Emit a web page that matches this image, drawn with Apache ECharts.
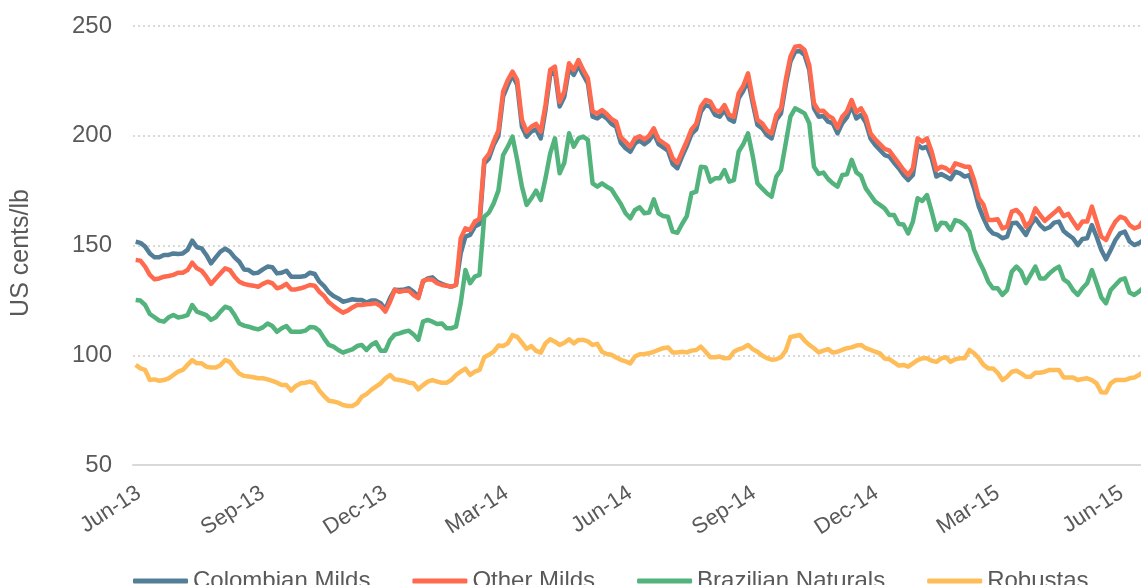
<!DOCTYPE html>
<html><head><meta charset="utf-8">
<script src="https://cdn.jsdelivr.net/npm/echarts@6/dist/echarts.min.js"></script>
<style>html,body{margin:0;padding:0;background:#fff}#c{width:1141px;height:585px}</style>
</head><body><div id="c"></div>
<script>
// Twice-weekly observations starting 2013-06-03 (every 3.5 days)
const firstObs = [2013, 5, 3];
const stepDays = 3.5;

const colombianMilds = [
151.7,151.2,149.5,146.4,144.6,144.6,145.7,145.7,146.4,146.1,146.4,148.0,152.2,149.2,148.7,145.7,141.9,144.6,147.2,148.6,147.2,144.6,142.6,139.1,138.8,137.3,137.6,139.1,140.4,140.1,137.3,137.6,138.5,135.8,135.8,135.8,
136.1,137.6,137.0,133.5,131.5,128.7,127.0,125.9,124.4,124.9,125.5,125.2,125.2,124.0,124.9,124.9,123.7,120.9,126.0,129.9,129.7,130.0,130.5,128.9,126.4,133.5,135.0,135.5,133.5,132.5,131.7,131.2,132.0,146.4,154.0,154.8,
158.6,159.8,187.4,189.7,195.8,199.9,217.8,223.1,227.7,223.1,204.1,199.6,201.9,202.9,198.8,211.7,227.7,229.2,213.3,217.8,230.7,227.7,232.0,227.7,223.9,208.7,207.9,209.5,207.9,205.4,204.1,196.8,194.3,192.7,196.5,197.8,
196.2,197.8,201.1,196.2,194.7,193.2,187.1,185.2,190.5,195.3,200.8,202.9,211.0,214.0,213.3,209.5,208.7,211.7,207.5,206.4,217.0,220.5,225.4,214.8,204.9,203.4,200.3,198.8,207.2,210.2,223.1,233.8,238.3,238.6,236.8,230.0,
212.5,208.7,209.0,206.4,205.7,201.1,205.7,208.4,213.6,207.9,209.5,206.0,198.8,195.8,193.5,191.2,190.5,187.7,185.2,182.1,179.8,182.1,195.8,194.3,195.0,189.7,181.4,182.6,181.4,180.2,183.6,182.9,181.4,182.1,176.0,167.7,
162.4,157.8,155.5,154.8,153.3,154.0,160.1,160.4,157.8,154.8,159.3,162.4,159.3,157.4,158.3,160.4,160.9,156.6,154.8,153.3,150.2,153.0,153.3,159.3,154.0,148.0,143.7,148.0,152.5,155.5,156.3,151.8,150.2,151.1,152.5];

const otherMilds = [
143.4,143.1,140.4,136.6,134.6,135.0,135.8,136.1,136.6,137.6,137.6,138.8,142.2,139.6,138.5,135.8,132.5,135.0,137.3,139.6,138.8,135.8,133.5,132.5,132.0,131.7,131.2,132.5,133.5,132.8,130.5,131.2,132.5,130.0,130.0,130.5,
131.2,132.0,131.7,128.9,127.0,124.1,122.4,120.8,119.4,120.3,121.8,122.9,122.9,123.2,123.4,123.7,122.4,119.9,124.4,129.8,128.9,129.4,129.4,127.4,126.0,133.9,134.6,134.4,132.8,132.0,131.7,131.2,132.0,153.2,157.8,157.1,
160.9,162.1,189.0,191.7,197.3,202.3,220.1,225.4,229.2,225.4,207.2,201.9,204.1,205.4,201.9,214.0,230.0,231.5,215.5,220.1,233.0,230.0,234.5,230.0,226.2,211.0,210.2,211.7,209.9,207.6,206.4,199.3,197.3,195.0,198.8,199.8,
198.3,200.0,203.4,198.3,196.8,195.3,189.7,187.6,192.7,197.5,202.9,205.4,213.3,216.3,215.5,211.7,211.0,214.0,209.5,208.7,219.3,222.8,228.4,217.0,207.2,205.7,202.6,201.1,209.5,212.5,225.4,236.0,240.6,240.9,239.1,232.2,
214.8,211.3,211.4,209.2,207.9,203.7,208.7,211.1,216.3,210.7,212.5,208.7,201.1,198.4,196.2,194.0,193.2,190.3,187.4,184.5,182.1,185.2,198.8,197.3,198.8,192.7,184.4,185.9,185.2,183.6,187.4,186.7,185.9,185.9,179.8,171.5,
168.5,161.6,161.6,162.0,157.8,158.6,165.4,166.2,163.9,158.6,160.9,166.9,163.9,161.2,163.1,164.9,166.9,163.4,164.4,160.9,157.8,160.9,160.9,167.7,160.9,154.0,152.5,157.1,160.9,163.1,162.4,159.3,157.8,158.6,161.6];

const brazilianNaturals = [
125.2,124.9,122.9,118.8,117.3,115.8,115.3,117.3,118.3,117.2,117.6,118.3,122.9,119.9,119.1,118.3,116.1,117.3,119.9,122.1,121.4,118.3,114.5,113.5,113.0,112.3,111.8,112.7,114.5,113.3,110.7,112.3,113.3,110.7,110.7,110.7,
111.2,112.9,112.7,111.1,107.7,104.7,103.9,102.4,101.2,102.0,102.7,104.2,104.7,102.4,104.7,105.9,102.1,102.0,107.0,109.4,110.0,110.7,111.2,109.5,107.0,115.3,116.1,115.3,114.2,114.5,112.3,112.3,113.0,123.7,138.8,132.8,
135.8,136.6,163.1,165.0,169.2,175.0,191.2,195.0,199.6,188.9,176.8,168.5,171.5,175.0,170.7,180.6,192.0,198.8,182.9,187.7,201.1,195.0,198.8,199.6,198.1,178.3,176.8,178.3,176.8,175.6,172.2,168.9,164.7,162.4,166.2,167.4,
164.7,165.0,171.0,164.7,163.4,163.1,156.3,155.8,159.8,163.4,173.8,174.5,185.9,185.6,179.1,180.6,180.6,184.4,179.1,179.8,192.7,196.2,201.1,190.8,178.3,176.0,173.8,172.2,181.4,184.4,196.5,208.7,212.5,211.4,210.2,205.7,
185.9,182.6,183.2,180.3,178.3,176.8,182.1,182.4,189.0,183.3,181.7,176.0,173.0,170.0,168.5,166.9,163.9,163.9,159.8,159.6,155.5,160.9,171.5,170.3,173.0,165.4,157.1,160.4,160.1,157.1,161.6,160.9,159.3,156.3,148.0,143.1,
138.8,133.5,130.5,130.5,127.5,129.7,138.1,140.4,138.1,132.8,136.6,140.4,135.0,135.0,137.3,139.1,140.4,134.6,133.1,129.7,127.5,130.5,132.8,138.8,132.8,126.4,123.7,129.7,132.0,134.3,135.0,128.6,127.5,129.0,131.0];

const robustas = [
95.6,94.0,93.3,88.7,89.0,88.4,88.7,89.5,91.0,92.5,93.3,95.6,97.8,96.3,96.3,94.8,94.4,94.4,95.5,97.8,97.0,94.0,91.7,90.6,90.3,90.0,89.5,89.5,89.0,88.3,87.5,86.4,86.4,83.9,86.0,87.2,
87.5,88.0,87.2,83.8,81.4,79.3,78.9,78.4,77.3,76.9,76.9,78.1,81.1,82.3,84.2,85.7,87.2,89.5,91.0,89.0,88.7,88.3,87.5,87.2,84.5,86.4,88.0,88.7,88.0,87.5,87.5,88.7,91.0,92.5,93.9,91.0,
92.5,93.3,99.1,100.2,101.6,104.4,104.2,105.4,109.2,108.4,105.7,102.9,104.2,102.0,101.2,105.4,107.3,106.2,104.7,105.7,107.3,105.4,107.0,107.0,106.3,104.7,105.2,101.6,100.6,100.2,99.0,97.9,97.2,96.3,99.4,100.5,
100.6,100.9,101.6,102.4,103.2,103.6,101.2,101.3,101.6,101.3,102.1,102.4,103.9,101.6,99.1,99.1,99.4,98.6,98.7,101.6,102.7,103.4,104.7,102.8,101.6,99.9,98.7,98.0,98.2,99.1,102.1,108.3,108.8,109.2,106.7,104.7,
103.2,101.3,102.1,102.8,101.2,101.6,102.4,103.2,103.6,104.4,104.7,103.2,102.4,101.6,100.9,98.5,98.2,96.8,95.3,95.6,94.8,96.3,97.8,98.6,98.6,97.5,97.0,98.6,99.1,97.0,98.2,98.6,98.6,102.4,100.9,98.6,
95.6,94.0,94.0,92.0,88.7,90.2,92.5,92.9,91.7,90.2,90.2,92.0,92.0,92.5,93.3,93.3,93.3,89.9,89.9,89.9,88.7,89.2,89.5,88.7,87.2,83.1,83.0,87.2,88.7,88.7,88.7,89.5,89.9,91.0,92.5];

const axisStart = [2013, 5, 1];
const axisEnd = [2015, 5, 20];
const tickMonths = [[2013,5],[2013,8],[2013,11],[2014,2],[2014,5],[2014,8],[2014,11],[2015,2],[2015,5]];
const tickLabels = ['Jun-13','Sep-13','Dec-13','Mar-14','Jun-14','Sep-14','Dec-14','Mar-15','Jun-15'];
const seriesNames = ['Colombian Milds','Other Milds','Brazilian Naturals','Robustas'];
const seriesColors = ['#527E98','#FF6A4F','#52B47C','#FFBD5A'];

const DAY = 86400000;
const t0 = Date.UTC(axisStart[0], axisStart[1], axisStart[2]);
const dayOf = (y, m, d) => (Date.UTC(y, m, 1) - t0) / DAY + (d - 1);
const obsDays = colombianMilds.map((_, i) => dayOf(firstObs[0], firstObs[1], firstObs[2]) + stepDays * i);
const tickDays = tickMonths.map(m => dayOf(m[0], m[1], 1));
const labelMap = {};
tickDays.forEach((t, i) => { labelMap[t] = tickLabels[i]; });

const allData = [colombianMilds, otherMilds, brazilianNaturals, robustas];

const chart = echarts.init(document.getElementById('c'), null, {renderer: 'canvas'});
chart.setOption({
  animation: false,
  textStyle: {fontFamily: 'Liberation Sans, Arial, sans-serif'},
  grid: {left: 133, right: 0, top: 26, bottom: 120, containLabel: false},
  legend: {
    data: seriesNames,
    left: 128, top: 564,
    icon: 'roundRect',
    itemWidth: 55, itemHeight: 5, itemGap: 42,
    textStyle: {fontSize: 24, color: '#595959'}
  },
  xAxis: {
    type: 'value',
    min: 0,
    max: dayOf(axisEnd[0], axisEnd[1], axisEnd[2]),
    axisLine: {lineStyle: {color: '#d9d9d9', width: 2}},
    axisTick: {show: false},
    splitLine: {show: false},
    axisLabel: {
      customValues: tickDays,
      formatter: v => labelMap[v] || '',
      rotate: 33, align: 'right', verticalAlign: 'top',
      fontSize: 22, color: '#595959', margin: 17
    }
  },
  yAxis: {
    type: 'value', min: 50, max: 250, interval: 50,
    name: 'US cents/lb', nameLocation: 'middle', nameGap: 99,
    nameTextStyle: {fontSize: 25, color: '#595959', padding: [0, 15, 0, 0]},
    axisLine: {show: false}, axisTick: {show: false},
    axisLabel: {fontSize: 24, color: '#595959', margin: 21},
    splitLine: {lineStyle: {type: [2, 3], color: '#d9d9d9', width: 2}}
  },
  series: allData.map((d, i) => ({
    name: seriesNames[i], type: 'line', symbol: 'none', showSymbol: false,
    data: d.map((v, j) => [obsDays[j], v]),
    lineStyle: {width: 4.5, color: seriesColors[i], join: 'round'},
    itemStyle: {color: seriesColors[i]},
    z: 2 + i
  }))
});
</script></body></html>
